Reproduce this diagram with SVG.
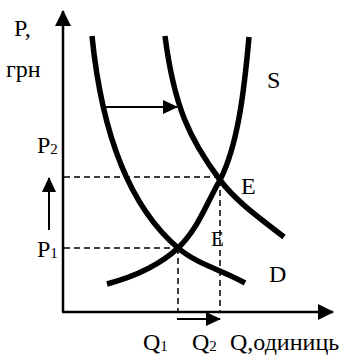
<svg xmlns="http://www.w3.org/2000/svg" width="348" height="355" viewBox="0 0 348 355">
<style>
text{font-family:'Liberation Serif','DejaVu Serif',serif;font-size:24px;fill:#000}
.sub{font-size:15px}
.axis{stroke:#000;stroke-width:2.5;fill:none}
.arr{stroke:#000;stroke-width:2;fill:none}
.dash{stroke:#000;stroke-width:1.5;stroke-dasharray:6 4;fill:none}
.curve{stroke:#000;stroke-width:5.5;fill:none}
</style>
<defs>
<marker id="big" viewBox="0 0 16 16" refX="15" refY="8" markerWidth="16" markerHeight="16" markerUnits="userSpaceOnUse" orient="auto"><path d="M0,0 L16,8 L0,16 z" fill="#000"/></marker>
<marker id="small" viewBox="0 0 15 14" refX="14" refY="7" markerWidth="15" markerHeight="14" markerUnits="userSpaceOnUse" orient="auto"><path d="M0,0 L15,7 L0,14 z" fill="#000"/></marker>
</defs>
<g id="connectors">
<line class="axis" x1="63" y1="312" x2="63" y2="11" marker-end="url(#big)"/>
<line class="axis" x1="62" y1="312" x2="333" y2="312" marker-end="url(#big)"/>
<line class="dash" x1="64" y1="177" x2="220" y2="177"/>
<line class="dash" x1="64" y1="248" x2="178" y2="248"/>
<line class="dash" x1="178" y1="248" x2="178" y2="311"/>
<line class="dash" x1="220" y1="180" x2="220" y2="311"/>
<line class="arr" x1="49" y1="230" x2="49" y2="178" marker-end="url(#small)"/>
<line class="arr" x1="106" y1="107" x2="177" y2="107" marker-end="url(#small)"/>
<line class="arr" x1="177" y1="319" x2="220" y2="319" marker-end="url(#small)"/>
</g>
<g id="curve-D1"><path class="curve" d="M92,36 C99.6,112 120.2,198.6 178,248 C197,264.25 223.25,270.5 245,283"/></g>
<g id="curve-D2"><path class="curve" d="M165,36 C174,106 189.4,139.2 220,180 C236.8,202.4 261.9,219.6 284,237"/></g>
<g id="curve-S"><path class="curve" d="M249,37 C244.5,87 238.4,144.4 220,180 C206.5,203.5 197.7,229.6 178,248 C158.3,266.4 132.9,277 107,284"/></g>
<g font-family="Liberation Serif, DejaVu Serif, serif" font-size="24">
<g id="label-P"><text x="14" y="36">P,</text><text x="6" y="77">грн</text></g>
<g id="label-P2"><text x="37" y="153">P<tspan class="sub" dy="1">2</tspan></text></g>
<g id="label-P1"><text x="37" y="257">P<tspan class="sub" dy="1">1</tspan></text></g>
<g id="label-S"><text x="267" y="88">S</text></g>
<g id="label-E"><text x="241" y="194">E</text></g>
<g id="label-E2"><text x="211" y="246" style="font-size:21px">E</text></g>
<g id="label-D"><text x="269" y="282">D</text></g>
<g id="label-Q1"><text x="143" y="350">Q<tspan class="sub" dy="1">1</tspan></text></g>
<g id="label-Q2"><text x="192" y="350">Q<tspan class="sub" dy="1">2</tspan></text></g>
<g id="label-Q"><text x="230" y="350">Q,одиниць</text></g>
</g>
</svg>
